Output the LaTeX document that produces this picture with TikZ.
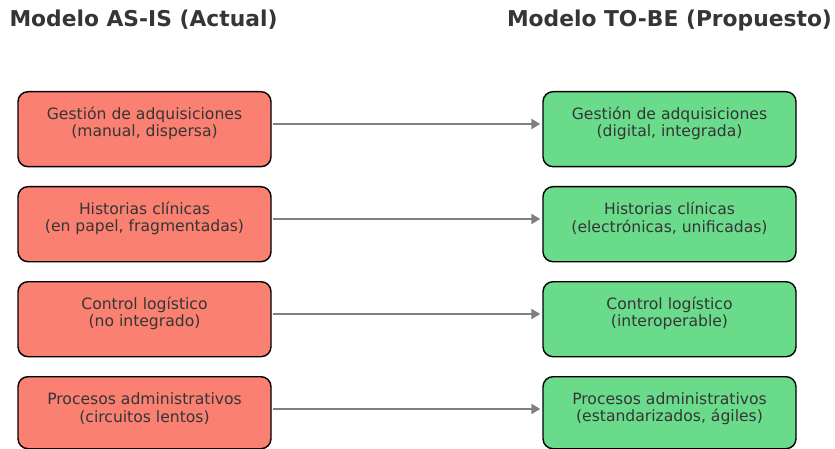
\documentclass[tikz,border=0pt]{standalone}
\usepackage{fontspec}
\setmainfont{DejaVu Sans}
\usetikzlibrary{arrows.meta}
\definecolor{asis}{HTML}{FA8072}
\definecolor{tobe}{HTML}{6ADB8A}
\definecolor{txt}{HTML}{353535}
\definecolor{conn}{HTML}{808080}
\begin{document}
\begin{tikzpicture}[x=1pt,y=-1pt,
  procbox/.style={draw=black, line width=1.4pt, rounded corners=10pt,
    minimum width=253pt, inner sep=0pt, anchor=north},
  asisbox/.style={procbox, fill=asis},
  tobebox/.style={procbox, fill=tobe},
  boxtext/.style={align=center, text=txt, inner sep=0pt,
    font=\fontsize{15.6}{17.5}\selectfont},
  title/.style={text=txt, inner sep=0pt, font=\bfseries\fontsize{21.8}{24}\selectfont},
  flow/.style={draw=conn, line width=2.8pt, -{Triangle[length=9pt,width=10pt]}}
]
\useasboundingbox (0,0) rectangle (835,449);

% column headings
\node[title] (hl) at (143.5,20) {Modelo AS-IS (Actual)};
\node[title] (hr) at (669.5,20) {Modelo TO-BE (Propuesto)};

% current-state boxes (left) and proposed boxes (right)
\node[asisbox, minimum height=75pt] (a1) at (144.5,91)  {};
\node[asisbox, minimum height=75pt] (a2) at (144.5,186) {};
\node[asisbox, minimum height=75pt] (a3) at (144.5,281) {};
\node[asisbox, minimum height=72pt] (a4) at (144.5,376) {};
\node[tobebox, minimum height=75pt] (b1) at (669.5,91)  {};
\node[tobebox, minimum height=75pt] (b2) at (669.5,186) {};
\node[tobebox, minimum height=75pt] (b3) at (669.5,281) {};
\node[tobebox, minimum height=72pt] (b4) at (669.5,376) {};

% box labels
\node[boxtext] (a1t) at (144.5,123.5) {Gestión de adquisiciones\\(manual, dispersa)};
\node[boxtext] (a2t) at (144.5,218.5) {Historias clínicas\\(en papel, fragmentadas)};
\node[boxtext] (a3t) at (144.5,313.5) {Control logístico\\(no integrado)};
\node[boxtext] (a4t) at (144.5,408.5) {Procesos administrativos\\(circuitos lentos)};
\node[boxtext] (b1t) at (669.5,123.5) {Gestión de adquisiciones\\(digital, integrada)};
\node[boxtext] (b2t) at (669.5,218.5) {Historias clínicas\\(electrónicas, unificadas)};
\node[boxtext] (b3t) at (669.5,313.5) {Control logístico\\(interoperable)};
\node[boxtext] (b4t) at (669.5,408.5) {Procesos administrativos\\(estandarizados, ágiles)};

% transitions AS-IS -> TO-BE
\foreach \i in {1,...,4}{
  \draw[flow] ([shift={(1pt,0)}]a\i.north east |- 0,{124+95*(\i-1)})
           -- ([shift={(-2pt,0)}]b\i.north west |- 0,{124+95*(\i-1)});
}
\end{tikzpicture}
\end{document}
